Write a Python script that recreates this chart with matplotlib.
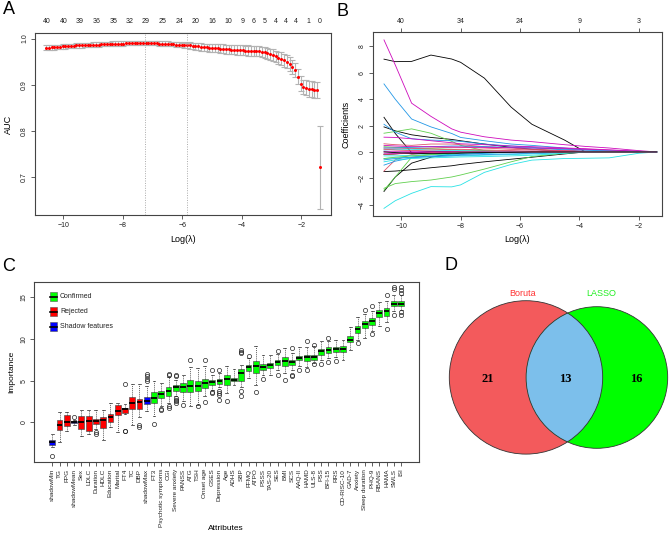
import numpy as np
import matplotlib
matplotlib.use("Agg")
import matplotlib.pyplot as plt
from matplotlib.patches import Rectangle, Circle
from matplotlib.lines import Line2D

plt.rcParams['font.family'] = ['Liberation Sans', 'DejaVu Sans']

W, H = 669, 534

# ---------------- Panel A data (cv.glmnet AUC) ----------------
log_lambda_a = np.linspace(-10.58, -1.37, 100)
auc = [0.980, 0.980, 0.981, 0.981, 0.982, 0.982, 0.983, 0.983, 0.984, 0.984,
       0.984, 0.985, 0.985, 0.985, 0.986, 0.986, 0.986, 0.987, 0.987, 0.987,
       0.988, 0.988, 0.988, 0.988, 0.989, 0.989, 0.989, 0.989, 0.989, 0.990,
       0.990, 0.990, 0.990, 0.990, 0.990, 0.990, 0.990, 0.990, 0.990, 0.990,
       0.990, 0.989, 0.989, 0.989, 0.989, 0.988, 0.988, 0.987, 0.987, 0.986,
       0.986, 0.985, 0.985, 0.984, 0.983, 0.983, 0.982, 0.981, 0.981, 0.980,
       0.980, 0.979, 0.979, 0.978, 0.978, 0.977, 0.977, 0.976, 0.976, 0.975,
       0.975, 0.975, 0.974, 0.974, 0.973, 0.973, 0.972, 0.972, 0.971, 0.970,
       0.968, 0.966, 0.964, 0.961, 0.958, 0.956, 0.953, 0.950, 0.944, 0.939,
       0.931, 0.917, 0.902, 0.895, 0.893, 0.891, 0.890, 0.888, 0.888, 0.721]
auc_se = [0.005] * 50 + [0.006, 0.006, 0.007, 0.007, 0.007, 0.008, 0.008, 0.008, 0.008, 0.009,
                         0.009, 0.009, 0.009, 0.010, 0.010, 0.010, 0.010, 0.010, 0.010, 0.010,
                         0.010, 0.010, 0.010, 0.011, 0.011, 0.011, 0.011, 0.011, 0.011, 0.012,
                         0.012, 0.012, 0.013, 0.013, 0.013, 0.014, 0.014, 0.014, 0.015, 0.015,
                         0.015, 0.016, 0.016, 0.016, 0.016, 0.017, 0.017, 0.017, 0.017, 0.090]
lambda_min_log = -7.24
lambda_1se_log = -5.83
top_a_pos = [-10.57, -9.99, -9.45, -8.88, -8.32, -7.77, -7.23, -6.66, -6.10, -5.55,
             -5.00, -4.44, -3.97, -3.60, -3.23, -2.86, -2.51, -2.17, -1.75, -1.38]
top_a_lab = ['40', '40', '39', '36', '35', '32', '29', '25', '24', '20',
             '16', '10', '9', '6', '5', '4', '4', '4', '1', '0']

# ---------------- Panel B data (coefficient paths) ----------------
knots_b = [-10.58, -10.2, -9.65, -9.0, -8.3, -8.0, -7.2, -6.3, -5.6, -4.5, -3.8, -3.0, -2.0, -1.4]
path_colors = ['k', 'm', 'b', 'k', 'k', 'k', 'k', 'g', 'g', 'g', 'c', 'b', 'm', 'r', 'r', 'c',
               'c', 'b', 'g', 'r', 'm', 'k', 'c', 'b', 'r', 'g', 'm', 'b', 'm', 'c', 'r', 'k']
coef_paths = [
    [7.04, 6.85, 6.87, 7.35, 7.05, 6.8, 5.6, 3.4, 2.1, 0.9, 0.0, 0, 0, 0],
    [8.5, 6.6, 3.7, 2.7, 1.75, 1.5, 1.15, 0.9, 0.78, 0.55, 0.42, 0.3, 0.1, 0],
    [5.16, 4.0, 2.5, 1.9, 1.4, 1.1, 0.85, 0.6, 0.5, 0.3, 0.15, 0.05, 0, 0],
    [2.63, 1.4, -0.05, -0.05, 0, 0, 0, 0, 0, 0, 0, 0, 0, 0],
    [-3.0, -1.9, -0.85, -0.4, -0.15, -0.1, -0.05, 0, 0, 0, 0, 0, 0, 0],
    [-1.49, -1.45, -1.35, -1.2, -1.05, -0.95, -0.75, -0.55, -0.4, -0.15, 0, 0, 0, 0],
    [1.9, 1.6, 1.3, 1.1, 0.95, 0.85, 0.6, 0.35, 0.2, 0.05, 0, 0, 0, 0],
    [1.42, 1.55, 1.75, 1.42, 0.8, 0.5, 0.1, 0, 0, 0, 0, 0, 0, 0],
    [-2.76, -2.4, -2.25, -2.13, -1.9, -1.75, -1.3, -0.75, -0.35, -0.1, 0, 0, 0, 0],
    [-2.9, -1.9, -0.4, -0.2, -0.1, -0.05, 0, 0, 0, 0, 0, 0, 0, 0],
    [-4.28, -3.7, -3.14, -2.63, -2.65, -2.5, -1.55, -0.95, -0.62, -0.5, -0.48, -0.45, -0.1, 0],
    [2.1, 1.5, 1.0, 0.9, 0.85, 0.8, 0.6, 0.45, 0.35, 0.15, 0.05, 0, 0, 0],
    [1.12, 1.1, 1.0, 0.85, 0.7, 0.62, 0.55, 0.45, 0.4, 0.3, 0.25, 0.15, 0.05, 0],
    [0.62, 0.55, 0.5, 0.6, 0.6, 0.55, 0.4, 0.3, 0.2, 0.1, 0, 0, 0, 0],
    [-1.45, -0.6, -0.2, -0.05, 0, 0, 0, 0, 0, 0, 0, 0, 0, 0],
    [-0.5, -0.45, -0.4, -0.35, -0.3, -0.3, -0.25, -0.2, -0.15, -0.05, 0, 0, 0, 0],
    [-0.3, -0.3, -0.25, -0.2, -0.2, -0.15, -0.1, -0.05, 0, 0, 0, 0, 0, 0],
    [-1.0, -0.7, -0.45, -0.35, -0.3, -0.25, -0.2, -0.15, -0.1, -0.05, 0, 0, 0, 0],
    [0.4, 0.35, 0.3, 0.25, 0.2, 0.15, 0.1, 0.05, 0, 0, 0, 0, 0, 0],
    [0.3, 0.3, 0.25, 0.3, 0.35, 0.35, 0.3, 0.2, 0.15, 0.1, 0.05, 0, 0, 0],
    [0.05, 0.05, 0.05, 0.05, 0.05, 0.05, 0.05, 0.05, 0.05, 0.05, 0.05, 0.03, 0.01, 0],
    [-0.2, -0.15, -0.05, 0, 0, 0, 0, 0, 0, 0, 0, 0, 0, 0],
    [0.15, 0.2, 0.2, 0.15, 0.1, 0.1, 0.05, 0, 0, 0, 0, 0, 0, 0],
    [-0.6, -0.5, -0.4, -0.3, -0.25, -0.2, -0.1, 0, 0, 0, 0, 0, 0, 0],
    [-0.2, -0.15, -0.1, -0.05, 0, 0, 0, 0, 0, 0, 0, 0, 0, 0],
    [-0.5, -0.4, -0.3, -0.2, -0.1, 0, 0, 0, 0, 0, 0, 0, 0, 0],
    [-0.1, -0.1, -0.05, 0, 0, 0, 0, 0, 0, 0, 0, 0, 0, 0],
    [0.3, 0.3, 0.35, 0.4, 0.45, 0.45, 0.4, 0.35, 0.3, 0.2, 0.15, 0.1, 0.03, 0],
    [0.5, 0.45, 0.4, 0.4, 0.38, 0.37, 0.35, 0.32, 0.3, 0.25, 0.2, 0.15, 0.05, 0],
    [-0.75, -0.6, -0.5, -0.45, -0.4, -0.38, -0.35, -0.3, -0.25, -0.1, 0, 0, 0, 0],
    [0.2, 0.15, 0.1, 0.15, 0.2, 0.2, 0.15, 0.1, 0.05, 0, 0, 0, 0, 0],
    [0.0, -0.05, -0.1, -0.12, -0.1, -0.08, -0.05, -0.03, 0, 0, 0, 0, 0, 0],
]
top_b_pos = [-10, -8, -6, -4, -2]
top_b_lab = ['40', '34', '24', '9', '3']

# ---------------- Panel C data (Boruta importance) ----------------
attributes = ['shadowMin', 'TG', 'FPG', 'shadowMean', 'Sex', 'LDLC', 'Duration', 'HDLC',
              'Education', 'Marital', 'FT4', 'TC', 'DBP', 'shadowMax', 'FT3',
              'Psychotic symptoms', 'CGI', 'Severe anxiety', 'PANSS', 'ATG', 'TSH',
              'Onset age', 'GSES', 'Depression', 'Age', 'ADHS', 'SBP', 'FFMQ', 'ATPO',
              'PSSS', 'TAS-20', 'SES', 'BMI', 'SCS', 'AAQ-II', 'HAMD', 'ULS-8', 'PSS',
              'BFI-15', 'RRS', 'CD-RISC-10', 'GAD-7', 'Anxiety', 'Sleep duration',
              'PHQ-9', 'RBANS', 'HAMA', 'SWLS', 'ISI']
decision = ['S', 'R', 'R', 'S', 'R', 'R', 'R', 'R', 'R', 'R', 'R', 'R', 'R', 'S'] + ['C'] * 35
med = [-2.44, -0.28, 0.0, 0.0, 0.0, 0.12, 0.2, 0.32, 0.68, 1.4, 1.6, 2.28, 2.4, 2.6, 2.9,
       3.4, 3.8, 4.2, 4.24, 4.32, 4.4, 4.72, 4.8, 5.0, 5.24, 5.12, 5.92, 6.64, 6.8, 6.64,
       6.84, 7.24, 7.32, 7.28, 7.72, 7.8, 7.84, 8.52, 8.72, 8.76, 8.84, 9.92, 11.2, 11.8,
       12.12, 13.12, 13.32, 14.24, 14.24]
q1 = [-2.8, -0.88, -0.4, -0.15, -0.8, -1.0, -0.2, -0.68, 0.04, 0.92, 1.12, 1.56, 1.64, 2.24, 2.3,
      2.92, 3.2, 3.8, 3.64, 3.64, 3.72, 4.12, 4.52, 4.64, 4.52, 4.92, 4.92, 6.2, 5.88, 6.28,
      6.52, 6.88, 6.72, 6.92, 7.44, 7.4, 7.52, 8.12, 8.32, 8.4, 8.4, 9.6, 10.72, 11.32,
      11.72, 12.64, 12.8, 13.92, 13.92]
q3 = [-2.08, 0.32, 0.92, 0.15, 0.8, 0.8, 0.44, 0.6, 1.0, 2.12, 1.72, 3.04, 2.84, 3.08, 3.6,
      3.8, 4.2, 4.52, 4.68, 5.08, 5.0, 5.2, 5.04, 5.24, 5.72, 5.32, 6.44, 6.92, 7.4, 7.0,
      7.12, 7.52, 7.8, 7.52, 8.0, 8.12, 8.12, 8.8, 9.0, 9.0, 9.12, 10.32, 11.52, 12.12,
      12.52, 13.52, 13.72, 14.6, 14.6]
wlo = [-3.0, -2.36, -1.08, -0.3, -1.6, -1.36, -0.76, -2.16, -0.56, -1.16, 1.0, -0.28, 0.64, 1.4, 0.8,
       1.92, 2.3, 3.12, 2.52, 1.9, 2.1, 3.12, 3.9, 4.2, 3.5, 4.5, 4.2, 5.3, 4.52, 5.64,
       5.7, 6.32, 5.9, 6.3, 6.8, 6.6, 7.1, 7.5, 7.7, 7.8, 7.52, 8.72, 9.9, 10.1, 11.0, 11.52,
       12.0, 13.4, 13.5]
whi = [-1.4, 1.2, 1.2, 0.3, 1.48, 1.44, 1.44, 1.48, 2.32, 2.32, 2.2, 4.64, 4.64, 4.32, 4.92,
       4.72, 5.4, 5.12, 5.72, 6.6, 6.52, 6.72, 5.7, 5.9, 6.8, 6.44, 6.92, 7.7, 9.12, 8.12,
       8.1, 8.24, 8.92, 8.32, 9.04, 9.0, 9.12, 9.72, 9.8, 9.84, 9.84, 11.4, 12.64, 13.0,
       13.4, 14.4, 14.52, 15.3, 15.3]
outliers = [[-4.04], [], [], [0.6], [], [], [-1.2, -1.4], [], [], [], [4.64, -1.08, -1.0], [], [-0.3, -0.6],
            [5.8, 5.5, 5.2, 4.9], [-0.2], [1.6, 1.48], [5.8, 5.64, 1.9, 1.7],
            [5.7, 5.5, 2.9, 2.7, 2.5, 2.3], [2.04], [7.52], [2.0], [7.52, 2.44], [6.32, 3.6, 3.5],
            [6.32, 3.7, 3.5, 3.3, 2.64], [2.52], [], [8.7, 8.5, 8.3, 3.7, 3.2], [7.96], [3.6],
            [5.24], [], [8.52, 5.72], [5.12], [8.92, 5.7, 5.5], [6.32], [9.8, 6.3], [9.32, 7.0],
            [7.04], [10.1, 7.3], [7.32], [], [], [9.52], [13.44], [14.0, 10.64], [],
            [15.3, 11.2], [16.3, 16.0, 12.9], [16.3, 15.9, 15.6, 13.3, 12.9]]
decision_colors = {'C': '#00FF00', 'R': '#FF0000', 'S': '#0000FF'}
legend_labels = ['Confirmed', 'Rejected', 'Shadow features']

# ---------------- Panel D data (Venn) ----------------
venn_names = ['Boruta', 'LASSO']
venn_counts = [21, 13, 16]

# ================= Figure =================
fig = plt.figure(figsize=(W / 100, H / 100), dpi=100)


def rect(l, r, t, b):
    return [l / W, 1 - b / H, (r - l) / W, (b - t) / H]


SP = '#444444'


def style_axes(ax):
    for s in ax.spines.values():
        s.set_color(SP)
        s.set_linewidth(0.8)
    ax.tick_params(axis='both', length=3, width=0.6, color=SP, labelsize=5, pad=2,
                   labelcolor='#222222')


def rot_y(ax):
    for lab in ax.get_yticklabels():
        lab.set_rotation(90)
        lab.set_va('center')


# ---- Panel A ----
axA = fig.add_axes(rect(35, 331, 33, 215))
style_axes(axA)
axA.errorbar(log_lambda_a, auc, yerr=auc_se, fmt='none', ecolor='#b3b3b3',
             elinewidth=0.8, capsize=2.5, capthick=0.8, zorder=1)
axA.plot(log_lambda_a, auc, 'o', color='#FF0000', ms=2.2, mec='none', zorder=2)
axA.axvline(lambda_min_log, color='#aaaaaa', ls=(0, (1, 1.5)), lw=0.7)
axA.axvline(lambda_1se_log, color='#aaaaaa', ls=(0, (1, 1.5)), lw=0.7)
axA.set_xlim(-10.95, -1.0)
axA.set_ylim(0.617, 1.012)
axA.set_xticks([-10, -8, -6, -4, -2])
axA.set_xticklabels(['\u221210', '\u22128', '\u22126', '\u22124', '\u22122'])
axA.set_yticks([0.7, 0.8, 0.9, 1.0])
axA.set_yticklabels(['0.7', '0.8', '0.9', '1.0'])
rot_y(axA)
axA.set_xlabel('Log(\u03bb)', fontsize=6.5, labelpad=4)
axA.set_ylabel('AUC', fontsize=6.5, labelpad=6)
topA = axA.secondary_xaxis('top')
topA.set_xticks(top_a_pos)
topA.set_xticklabels(top_a_lab)
topA.tick_params(length=0, labelsize=5, pad=5.5, labelcolor='#222222')
topA.spines['top'].set_visible(False)

# ---- Panel B ----
axB = fig.add_axes(rect(372.7, 662, 32, 216))
style_axes(axB)
rcol = {'k': '#000000', 'r': '#DF536B', 'g': '#61D04F', 'b': '#2297E6', 'c': '#28E2E5', 'm': '#CD0BBC'}
for c, ys in zip(path_colors, coef_paths):
    axB.plot(knots_b, ys, color=rcol[c], lw=0.6)
axB.set_xlim(-10.96, -1.22)
axB.set_ylim(-4.86, 9.1)
axB.set_xticks([-10, -8, -6, -4, -2])
axB.set_xticklabels(['\u221210', '\u22128', '\u22126', '\u22124', '\u22122'])
axB.set_yticks([-4, -2, 0, 2, 4, 6, 8])
axB.set_yticklabels(['\u22124', '\u22122', '0', '2', '4', '6', '8'])
rot_y(axB)
axB.set_xlabel('Log(\u03bb)', fontsize=6.5, labelpad=4)
axB.set_ylabel('Coefficients', fontsize=6.5, labelpad=6)
topB = axB.secondary_xaxis('top')
topB.set_xticks(top_b_pos)
topB.set_xticklabels(top_b_lab)
topB.tick_params(length=3, width=0.6, color=SP, labelsize=5, pad=2, labelcolor='#222222')
topB.spines['top'].set_visible(False)

# ---- Panel C ----
axC = fig.add_axes(rect(34.4, 419, 281.7, 461.7))
style_axes(axC)
stats = []
for i, name in enumerate(attributes):
    stats.append(dict(med=med[i], q1=q1[i], q3=q3[i], whislo=wlo[i], whishi=whi[i],
                      fliers=outliers[i], label=name))
pos = np.arange(1, len(attributes) + 1)
bp = axC.bxp(stats, positions=pos, widths=0.8, patch_artist=True, showfliers=True,
             boxprops=dict(edgecolor='#555555', linewidth=0.5),
             medianprops=dict(color='black', linewidth=1.3),
             whiskerprops=dict(color='#222222', linewidth=0.5, linestyle=(0, (1.5, 1.5))),
             capprops=dict(color='#222222', linewidth=0.5),
             flierprops=dict(marker='o', markersize=3, markerfacecolor='none',
                             markeredgecolor='#222222', markeredgewidth=0.5))
for patch, d in zip(bp['boxes'], decision):
    patch.set_facecolor(decision_colors[d])
for cap in bp['caps']:
    x = cap.get_xdata()
    c = (x[0] + x[1]) / 2
    cap.set_xdata([c - 0.2, c + 0.2])
axC.set_xlim(-1.46, 51.46)
axC.set_ylim(-4.75, 16.9)
axC.set_xticks(pos)
axC.set_xticklabels(attributes, rotation=90, fontsize=4.6)
axC.set_yticks([0, 5, 10, 15])
axC.set_yticklabels(['0', '5', '10', '15'])
rot_y(axC)
axC.set_ylabel('Importance', fontsize=6, labelpad=4)
fig.text(226 / W, 1 - 528 / H, 'Attributes', fontsize=6, ha='center', va='center')

# legend for C
leg_y = [296.7, 311.7, 326.5]
for lab, d, yc in zip(legend_labels, ['C', 'R', 'S'], leg_y):
    fig.add_artist(Rectangle(((50) / W, 1 - (yc + 4.5) / H), 7 / W, 9 / H,
                             transform=fig.transFigure, facecolor=decision_colors[d],
                             edgecolor='#555555', linewidth=0.4))
    fig.add_artist(Line2D([50 / W, 57 / W], [1 - yc / H, 1 - yc / H], transform=fig.transFigure,
                          color='black', linewidth=1.2))
    fig.text(60 / W, 1 - yc / H, lab, fontsize=5, ha='left', va='center', color='#222222')

# ---- Panel D ----
axD = fig.add_axes(rect(430, 669, 255, 534))
axD.set_xlim(430, 669)
axD.set_ylim(534, 255)
axD.set_aspect('equal')
axD.axis('off')
cL = Circle((526, 377.4), 76.7, facecolor='#F35A5C', edgecolor='none')
cR = Circle((596.9, 377.5), 70.8, facecolor='#00FF00', edgecolor='none')
axD.add_patch(cL)
axD.add_patch(cR)
cI = Circle((596.9, 377.5), 70.8, facecolor='#7CBFEB', edgecolor='none')
axD.add_patch(cI)
cI.set_clip_path(Circle((526, 377.4), 76.7, transform=axD.transData))
axD.add_patch(Circle((526, 377.4), 76.7, fill=False, edgecolor='#333333', lw=0.6))
axD.add_patch(Circle((596.9, 377.5), 70.8, fill=False, edgecolor='#333333', lw=0.6))
axD.text(522.7, 294, venn_names[0], color='#FF3333', fontsize=6.5, ha='center', va='center')
axD.text(601, 294, venn_names[1], color='#22EE22', fontsize=6.5, ha='center', va='center')
for xv, v in zip([487.3, 565, 636], venn_counts):
    axD.text(xv, 378.5, str(v), fontsize=9, ha='center', va='center',
             family='Liberation Serif', fontweight='bold')

# ---- Panel letters ----
for lt, x, y in [('A', 3, 1), ('B', 337, 3), ('C', 2, 258), ('D', 444, 257)]:
    fig.text(x / W, 1 - y / H, lt, fontsize=13, ha='left', va='top')

fig.savefig('out.png', dpi=100)
